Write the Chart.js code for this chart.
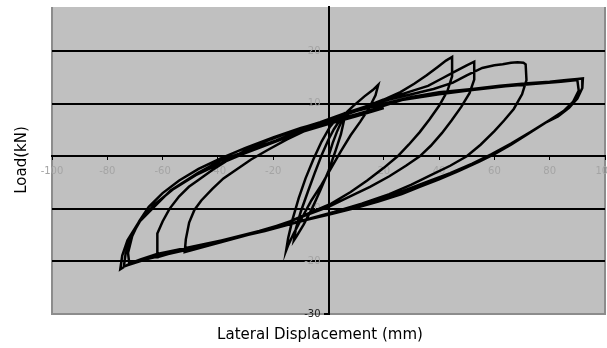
<!DOCTYPE html>
<html>
<head>
<meta charset="utf-8">
<script src="https://cdn.jsdelivr.net/npm/chart.js@4.4.1/dist/chart.umd.min.js"></script>
<style>
  html, body { margin: 0; padding: 0; background: #fff; }
</style>
</head>
<body>
<canvas id="myChart" width="607" height="348"></canvas>
<script>
// DATA (displacement mm, load kN)

const xTitle = 'Lateral Displacement (mm)';
const yTitle = 'Load(kN)';
const xTicks = [-100, -80, -60, -40, -20, 0, 20, 40, 60, 80, 100];
const yTicks = [-30, -20, -10, 0, 10, 20];

const cycle1 = [[0,0],[1.5,2.5],[3,4.6],[4.5,6.4],[5.6,7.6],[6,8.4],[5.6,6.8],[4.5,4.2],[2.5,1],[0,-2.8],[-3,-6.5],[-6,-10],[-9,-13],[-11.5,-15.2],[-12.5,-16],[-11.8,-13.8],[-10,-10.5],[-7.5,-6.8],[-5,-3.2],[-2.5,0.2],[0,3.2],[2,5.2]];

const cycle2 = [[5,7.6],[9,9.6],[13,11.4],[16,12.6],[18,13.6],[17,11.6],[14.5,9],[11.5,6.6],[8,4],[4.5,1],[1,-2.2],[-2.5,-5.4],[-6.2,-8.4],[-9.5,-11.6],[-12.5,-14.6],[-14.5,-16.8],[-15.3,-17.9],[-14.6,-15.6],[-13,-12],[-10.8,-8],[-8.3,-4.2],[-5.5,-0.6],[-2.5,2.8],[0.5,5.6],[3,7.2]];

const cycle3 = [[8,8.4],[14,9.6],[20,10.8],[26,12.2],[31,13.8],[35.5,15.4],[39.5,17],[42.5,18.2],[44.7,18.9],[44.7,15.2],[43,12.4],[40,9.6],[36.5,7],[33,4.6],[29,2.2],[25,0],[20,-2.2],[14,-4.6],[8,-6.8],[1,-9],[-6,-10.6],[-14,-12.4],[-22,-13.8],[-30,-15],[-38,-16.2],[-45,-17.2],[-52,-18.2],[-51.6,-15.8],[-50.4,-12.6],[-48.5,-10.2],[-46,-8.4],[-42,-6.2],[-38,-4.2],[-33,-2.4],[-28,-0.6],[-22,1.2],[-15,3.2],[-8,5],[-1,6.6],[6,7.8]];

const cycle4 = [[12,9.2],[18,10.4],[24,11.4],[30,12.4],[36,13.4],[41,14.8],[46,16.2],[50,17.3],[52.7,18],[52.7,14.6],[51,12],[48,9.4],[44.5,6.8],[41,4.4],[37,2],[33,0],[28,-1.8],[22,-3.8],[15,-5.8],[8,-7.6],[0,-9.6],[-8,-11.2],[-16,-12.8],[-25,-14.2],[-34,-15.4],[-43,-16.6],[-52,-17.8],[-58,-18.6],[-62,-19.2],[-62,-17.6],[-61.8,-14.7],[-60,-12.4],[-57.5,-10],[-54,-7.6],[-50.5,-5.8],[-47.3,-4.6],[-42,-2.6],[-36,-0.6],[-29,1.4],[-21,3.2],[-12,5],[-3,6.5],[6,8.2]];

const cycle5 = [[14,9.6],[22,10.8],[30,11.8],[38,12.8],[45,14],[50,15.4],[55.6,16.8],[60,17.3],[63,17.5],[66,17.8],[68.4,17.9],[70.5,17.8],[71.3,17.5],[71.6,14.5],[70,11.8],[67,9],[63.5,6.8],[60,4.8],[55,2.2],[50,0],[44,-1.8],[37,-3.6],[30,-5.4],[22,-7.2],[12,-9],[2,-10.6],[-8,-12],[-18,-13.4],[-28,-14.8],[-38,-16.2],[-48,-17.4],[-58,-18.6],[-66,-19.6],[-72,-20.6],[-72.5,-18.4],[-71,-15.2],[-68.5,-12.4],[-65,-9.6],[-60,-7],[-54,-4.6],[-47,-2.4],[-39,-0.4],[-30,1.6],[-20,3.6],[-10,5.4],[0,6.8],[10,8.6]];

const cycle6 = [[20,10],[30,11.3],[40,12.2],[52,12.8],[62,13.4],[72,13.9],[80,14.2],[86,14.5],[90,14.7],[92,14.8],[91.8,13],[90,11],[87,9.2],[83,7.6],[78.5,6.4],[72,4.2],[66,2.2],[60,0.4],[54.5,-1],[47,-2.8],[40,-4.4],[33,-5.8],[26.5,-7.2],[18,-8.6],[10,-9.8],[1,-11],[-9,-12.2],[-19,-13.6],[-28,-14.8],[-37,-15.8],[-46,-16.8],[-55,-17.8],[-62,-18.6],[-68,-19.6],[-72,-20.4],[-75.3,-21.5],[-74.6,-18.9],[-72.7,-16],[-68.7,-12.6],[-63.6,-9.9],[-57.1,-6.5],[-47.3,-3.2],[-38.9,-0.8],[-29.1,1.1],[-18.9,3],[-9.8,5],[1.1,6.7],[14,8.6],[26.5,10.7],[40,11.8],[52,12.6],[64,13.3],[75,13.8],[84,14.2],[90,14.5]];

const cycle7 = [[90.5,12.5],[88.5,10.4],[85,8.6],[80,6.9],[73,4.6],[66,2.4],[59,0.4],[52,-1.4],[44,-3.2],[36,-4.8],[27,-6.6],[17,-8.4],[7,-10],[-3,-11.4],[-13,-12.8],[-23,-14.2],[-33,-15.4],[-43,-16.6],[-53,-17.8],[-62,-19],[-69,-20],[-74,-21],[-73.4,-18.6],[-71.5,-15.4],[-68,-12.2],[-63,-9.2],[-56,-6.2],[-48,-3.6],[-40,-1.6],[-31,0.4],[-21,2.4],[-11,4.4],[-1,6],[10,7.6],[20,9.2]];

const history = [].concat(cycle1, cycle2, cycle3, cycle4, cycle5, cycle6, cycle7);

// grey plot area like the old spreadsheet charts
const plotBackground = {
  id: 'plotBackground',
  beforeDraw(chart) {
    const { ctx, chartArea: a } = chart;
    ctx.save();
    ctx.fillStyle = '#c0c0c0';
    ctx.fillRect(a.left, a.top, a.right - a.left, a.bottom - a.top);
    ctx.strokeStyle = '#8c8c8c';
    ctx.lineWidth = 2;
    ctx.beginPath();
    ctx.moveTo(a.left, a.top);
    ctx.lineTo(a.left, a.bottom);
    ctx.lineTo(a.right, a.bottom);
    ctx.lineTo(a.right, a.top);
    ctx.stroke();
    ctx.restore();
  }
};

// axis titles sit at the outer edges, not next to the centred axes
const axisTitles = {
  id: 'axisTitles',
  afterDraw(chart) {
    const c = chart.ctx;
    c.save();
    c.fillStyle = '#000';
    c.font = '15px "DejaVu Sans"';
    c.textAlign = 'center';
    c.textBaseline = 'middle';
    c.fillText(xTitle, 320, 335);
    c.translate(22, 160);
    c.rotate(-Math.PI / 2);
    c.fillText(yTitle, 0, 0);
    c.restore();
  }
};

// edge labels may hang over the plot border, so don't let them shrink it
function noLabelPadding(scale) {
  scale.paddingLeft = 0;
  scale.paddingRight = 0;
  scale.paddingTop = 0;
  scale.paddingBottom = 0;
}

const tickFont = { family: 'DejaVu Sans', size: 10 };

const ctx = document.getElementById('myChart').getContext('2d');
const myChart = new Chart(ctx, {
  type: 'scatter',
  data: {
    datasets: [{
      data: history.map(p => ({ x: p[0], y: p[1] })),
      showLine: true,
      borderColor: '#000',
      borderWidth: 2.5,
      pointRadius: 0,
      tension: 0
    }]
  },
  options: {
    responsive: false,
    animation: false,
    layout: {
      autoPadding: false,
      padding: { left: 52, top: 7, right: 2, bottom: 34 }
    },
    plugins: {
      legend: { display: false },
      tooltip: { enabled: false }
    },
    scales: {
      x: {
        type: 'linear',
        position: { y: 0 },
        min: -100,
        max: 100,
        afterBuildTicks: s => { s.ticks = xTicks.map(v => ({ value: v })); },
        afterFit: noLabelPadding,
        grid: { drawOnChartArea: false, drawTicks: true, tickLength: 3, color: '#000' },
        border: { display: true, color: '#000', width: 2 },
        ticks: {
          color: '#a4a4a4',
          font: tickFont,
          padding: 6,
          maxRotation: 0,
          autoSkip: false,
          callback: v => (v === 0 ? '' : v)
        }
      },
      y: {
        type: 'linear',
        position: 'center',
        min: -30,
        max: 28.4,
        afterBuildTicks: s => { s.ticks = yTicks.map(v => ({ value: v })); },
        afterFit: noLabelPadding,
        grid: {
          color: c => (c.tick && c.tick.value === -30 ? '#8c8c8c' : '#000'),
          lineWidth: 2,
          tickLength: 4,
          tickColor: '#000'
        },
        border: { color: '#000', width: 2 },
        ticks: {
          color: c => (c.tick && c.tick.value === -30 ? '#222' : '#a4a4a4'),
          font: tickFont,
          padding: 4,
          autoSkip: false,
          callback: v => (v === 0 ? '' : v)
        }
      }
    }
  },
  plugins: [plotBackground, axisTitles]
});
</script>
</body>
</html>
